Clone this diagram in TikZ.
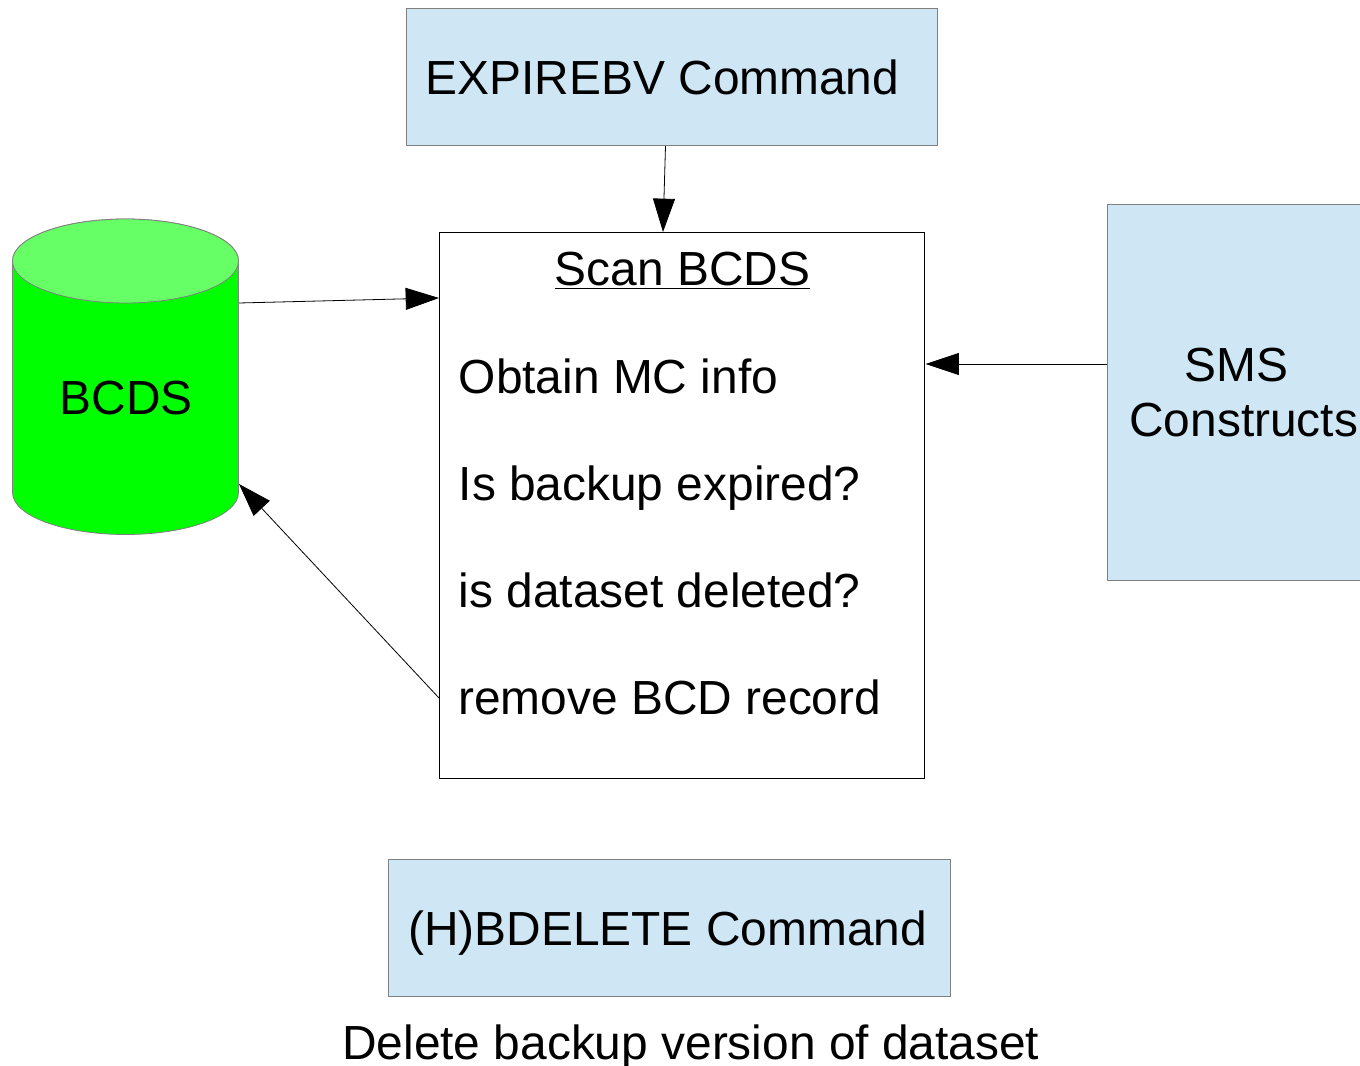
\documentclass[tikz,border=0pt]{standalone}
\usepackage{fontspec}
\setmainfont{Liberation Sans}
\usetikzlibrary{arrows.meta}
\definecolor{boxblue}{HTML}{CFE7F5}
\definecolor{boxedge}{HTML}{808080}
\definecolor{cylside}{HTML}{00FF00}
\definecolor{cyltop}{HTML}{66FF66}
\tikzset{x=0.75pt,y=-0.75pt,
  bluebox/.style={draw=boxedge,fill=boxblue,line width=0.6pt},
  lbl/.style={inner sep=0pt,font=\fontsize{35.9}{36}\selectfont,anchor=base west},
  conn/.style={draw=black,line width=0.6pt,-{Triangle[length=25pt,width=16.5pt]}}}
\begin{document}
\begin{tikzpicture}
\useasboundingbox (0,0) rectangle (1360,1066);
\fill[white] (0,0) rectangle (1360,1066);
% blue boxes
\path[bluebox] (406,8.5) rectangle (937,145.5);
\path[bluebox] (1107.5,204) rectangle (1370,580);
\path[bluebox] (388.5,859.5) rectangle (950,996.5);
\clip (0,0) rectangle (1360,1066);
% scan box
\node[draw=black,fill=white,line width=0.6pt,minimum width=485pt*0.75,minimum height=546pt*0.75,inner sep=0pt,outer sep=0pt,anchor=north west] (scan) at (439.3,232) {};
% cylinder
\path[draw=boxedge,fill=cylside,line width=0.6pt] (12.5,261) -- (12.5,492.5) arc[start angle=180,end angle=360,x radius=113,y radius=-42] -- (238.5,261) arc[start angle=0,end angle=180,x radius=113,y radius=-42] -- cycle;
\path[draw=boxedge,fill=cyltop,line width=0.6pt] (125.5,261) ellipse[x radius=113,y radius=42];
\coordinate (cylA) at (239,303);
\coordinate (cylB) at (239,484);
\coordinate (expA) at (665.5,146);
\coordinate (expB) at (663,232);
\coordinate (scanL1) at (439,298);
\coordinate (scanL2) at (439,698);
\coordinate (smsA) at (1107,364);
\coordinate (smsB) at (925.5,364);
\draw[conn] (expA) -- (expB);
\draw[conn] (cylA) -- (scanL1);
\draw[conn] (smsA) -- (smsB);
\draw[conn] (scanL2) -- (cylB);
% text
\node[lbl] (t1) at (425.5,94.5) {EXPIREBV Command};
\node[lbl] (t2) at (554.5,285.5) {\underline{Scan BCDS}};
\node[lbl] (t3) at (458.5,393) {Obtain MC info};
\node[lbl] (t4) at (458.5,500) {Is backup expired?};
\node[lbl] (t5) at (458.5,607) {is dataset deleted?};
\node[lbl] (t6) at (458,714) {remove BCD record};
\node[lbl] (t7) at (59.5,414.5) {BCDS};
\node[lbl] (t8) at (1184.5,381) {SMS};
\node[lbl] (t9) at (1129,436) {Constructs};
\node[lbl] (t10) at (408,945) {(H)BDELETE Command};
\node[lbl] (t11) at (342,1059) {Delete backup version of dataset};
\end{tikzpicture}
\end{document}
